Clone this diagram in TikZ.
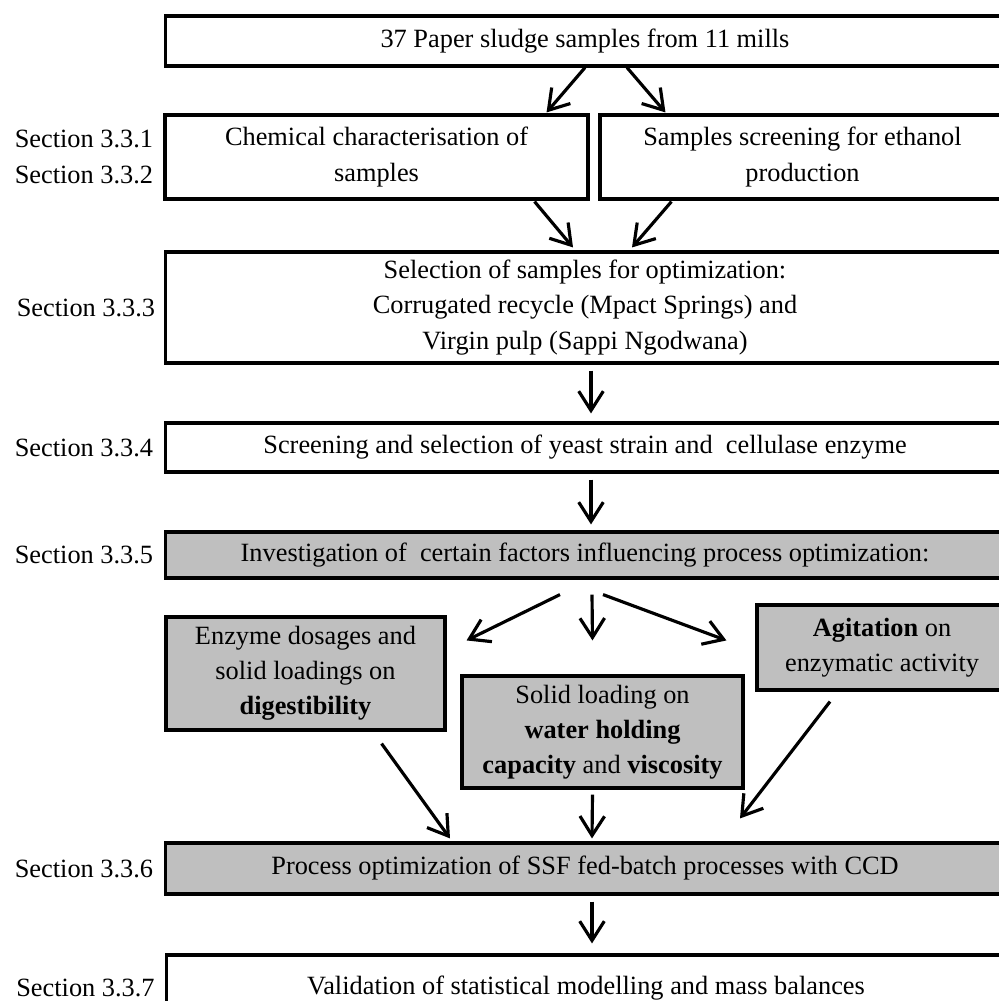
\documentclass[tikz,border=0pt]{standalone}
\usepackage{fontspec}
\setmainfont{Liberation Serif}
\usetikzlibrary{arrows.meta,positioning,calc}

\tikzset{
  box/.style={draw, line width=1.8pt, inner sep=0pt, align=center,
    font=\fontsize{15}{20}\selectfont},
  greybox/.style={box, fill=black!25},
  sect/.style={font=\fontsize{15}{20}\selectfont, align=right, inner sep=0pt},
  arr/.style={line width=1.8pt, -{Straight Barb[length=11pt,width=14pt]}}
}

\begin{document}
\begin{tikzpicture}[x=0.02cm, y=-0.02cm]
  \path[use as bounding box, clip] (0,0) rectangle (999,1001);
  % boxes
  \node[box, minimum width=16.8cm, minimum height=1cm] (paper) at (585,41)
    {37 Paper sludge samples from 11 mills};
  \node[box, minimum width=8.46cm, minimum height=1.68cm] (chem) at (376.5,157)
    {Chemical characterisation of\\samples};
  \node[box, minimum width=8.1cm, minimum height=1.68cm] (ethanol) at (802.5,157)
    {Samples screening for ethanol\\production};
  \node[box, minimum width=16.8cm, minimum height=2.22cm] (select) at (585,307.5)
    {Selection of samples for optimization:\\Corrugated recycle (Mpact Springs) and\\Virgin pulp (Sappi Ngodwana)};
  \node[box, minimum width=16.8cm, minimum height=0.98cm] (yeast) at (585,447.5)
    {Screening and selection of yeast strain and \ cellulase enzyme};
  \node[greybox, minimum width=16.8cm, minimum height=0.92cm] (invest) at (585,555)
    {Investigation of \ certain factors influencing process optimization:};
  \node[greybox, minimum width=5.58cm, minimum height=2.26cm] (enzyme) at (305.5,673.5)
    {Enzyme dosages and\\solid loadings on\\\textbf{digestibility}};
  \node[greybox, minimum width=5.62cm, minimum height=2.24cm] (solid) at (602.5,732)
    {Solid loading on\\\textbf{water holding}\\\textbf{capacity} and \textbf{viscosity}};
  \node[greybox, minimum width=5cm, minimum height=1.7cm] (agit) at (882,647.5)
    {\textbf{Agitation} on\\enzymatic activity};
  \node[greybox, minimum width=16.8cm, minimum height=1.02cm] (process) at (585,868.5)
    {Process optimization of SSF fed-batch processes with CCD};
  \node[box, minimum width=16.78cm, minimum height=1.32cm] (valid) at (586,988)
    {Validation of statistical modelling and mass balances};
  % section labels
  \node[sect, left=0.2cm of chem] {Section 3.3.1\\Section 3.3.2};
  \node[sect, left=0.16cm of select] {Section 3.3.3};
  \node[sect, left=0.2cm of yeast] {Section 3.3.4};
  \node[sect, left=0.2cm of invest] {Section 3.3.5};
  \node[sect, left=0.2cm of process] {Section 3.3.6};
  \node[sect, left=0.2cm of valid] {Section 3.3.7};
  % arrows
  \draw[arr] (paper.south) -- ($(chem.north east)+(-43,-1)$);
  \draw[arr] ($(paper.south)+(42,0)$) -- ($(ethanol.north west)+(67,-1)$);
  \draw[arr] ($(chem.south east)+(-55,1)$) -- ($(select.north)+(-12,-3)$);
  \draw[arr] ($(ethanol.south west)+(73,1)$) -- ($(select.north)+(47,-3)$);
  \draw[arr] ($(select.south)+(6,6)$) -- ($(yeast.north)+(6,-8)$);
  \draw[arr] ($(yeast.south)+(6,6)$) -- ($(invest.north)+(6,-6)$);
  % fan out
  \draw[arr] ($(invest.south)+(-25,15)$) -- ($(enzyme.north east)+(20,25)$);
  \draw[arr] ($(invest.south)+(7,15)$) -- ($(solid.north)+(-10,-34)$);
  \draw[arr] ($(invest.south)+(18,15)$) -- ($(agit.north west)+(-29,37)$);
  % fan in
  \draw[arr] ($(enzyme.south east)+(-65,12)$) -- ($(process.north)+(-135,-3)$);
  \draw[arr] ($(solid.south)+(-10,5)$) -- ($(process.north)+(7,-3)$);
  \draw[arr] ($(agit.south)+(-52,10)$) -- ($(process.north)+(155,-23)$);
  \draw[arr] ($(process.south)+(7,6)$) -- ($(valid.north)+(6,-10)$);
\end{tikzpicture}
\end{document}
